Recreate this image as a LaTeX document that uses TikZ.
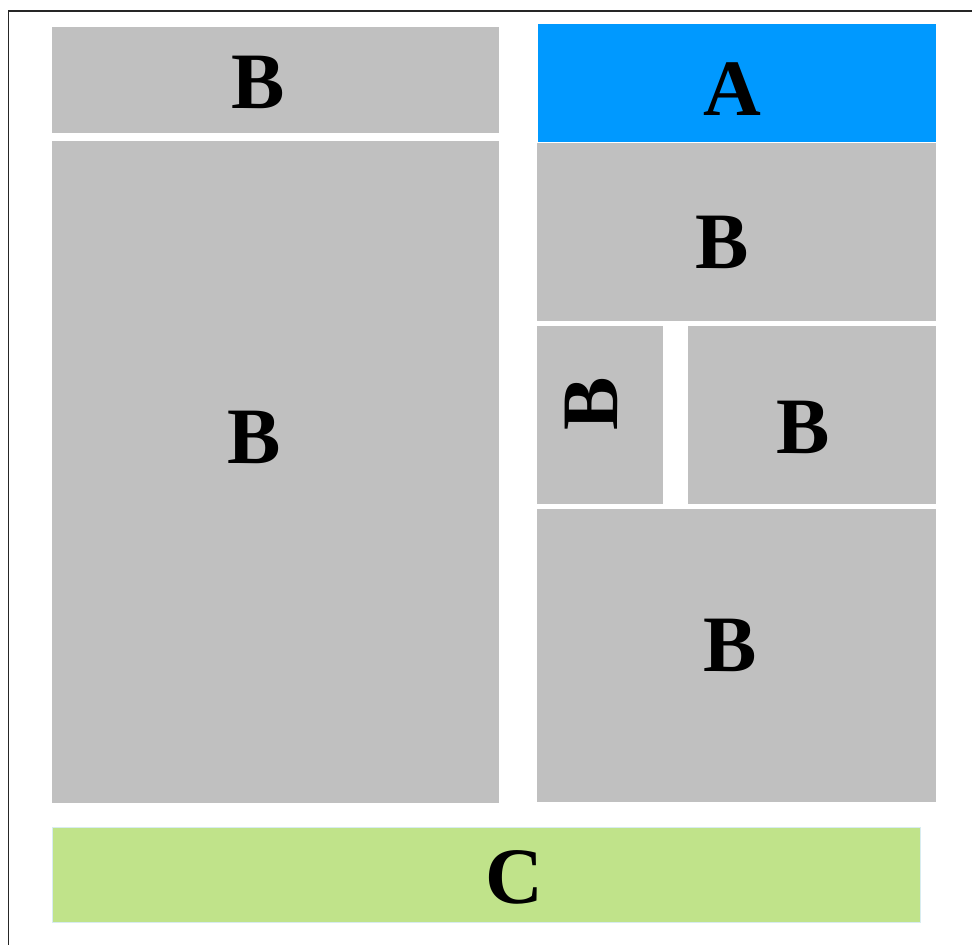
\documentclass[tikz,border=0pt]{standalone}
\usepackage{fontspec}
\setmainfont{Liberation Serif}
\definecolor{boxgrey}{HTML}{C0C0C0}
\definecolor{boxblue}{HTML}{0099FF}
\definecolor{boxgreen}{HTML}{C0E38A}
\definecolor{edgegreen}{HTML}{D8ECF0}
\begin{document}
\begin{tikzpicture}[x=1pt,y=-1pt,
  gbox/.style={fill=boxgrey,draw=none},
  lbl/.style={font=\fontsize{80}{80}\selectfont\bfseries,inner sep=0pt,anchor=center}]
\useasboundingbox (0,0) rectangle (972,945);
\fill[white] (0,0) rectangle (972,945);
\draw[line width=1.5pt,black!85] (8.5,945) -- (8.5,11) -- (972,11);
% boxes
\fill[gbox] (52,27) rectangle (499,133);
\fill[gbox] (52,141) rectangle (499,803);
\fill[boxblue] (538,24) rectangle (936,142);
\fill[gbox] (537,143) rectangle (936,321);
\fill[gbox] (537,326) rectangle (663,504);
\fill[gbox] (688,326) rectangle (936,504);
\fill[gbox] (537,509) rectangle (936,802);
\filldraw[fill=boxgreen,draw=edgegreen,line width=0.8pt] (52,827) rectangle (920,922);
% labels
\node[lbl] (b1) at (258,82) {B};
\node[lbl] (b2) at (254,437) {B};
\node[lbl] (a) at (732,89) {A};
\node[lbl] (b3) at (722,242) {B};
\node[lbl,rotate=90] (b4) at (591,404) {B};
\node[lbl] (b5) at (803,427) {B};
\node[lbl] (b6) at (730,645) {B};
\node[lbl] (c) at (514,877) {C};
\end{tikzpicture}
\end{document}
